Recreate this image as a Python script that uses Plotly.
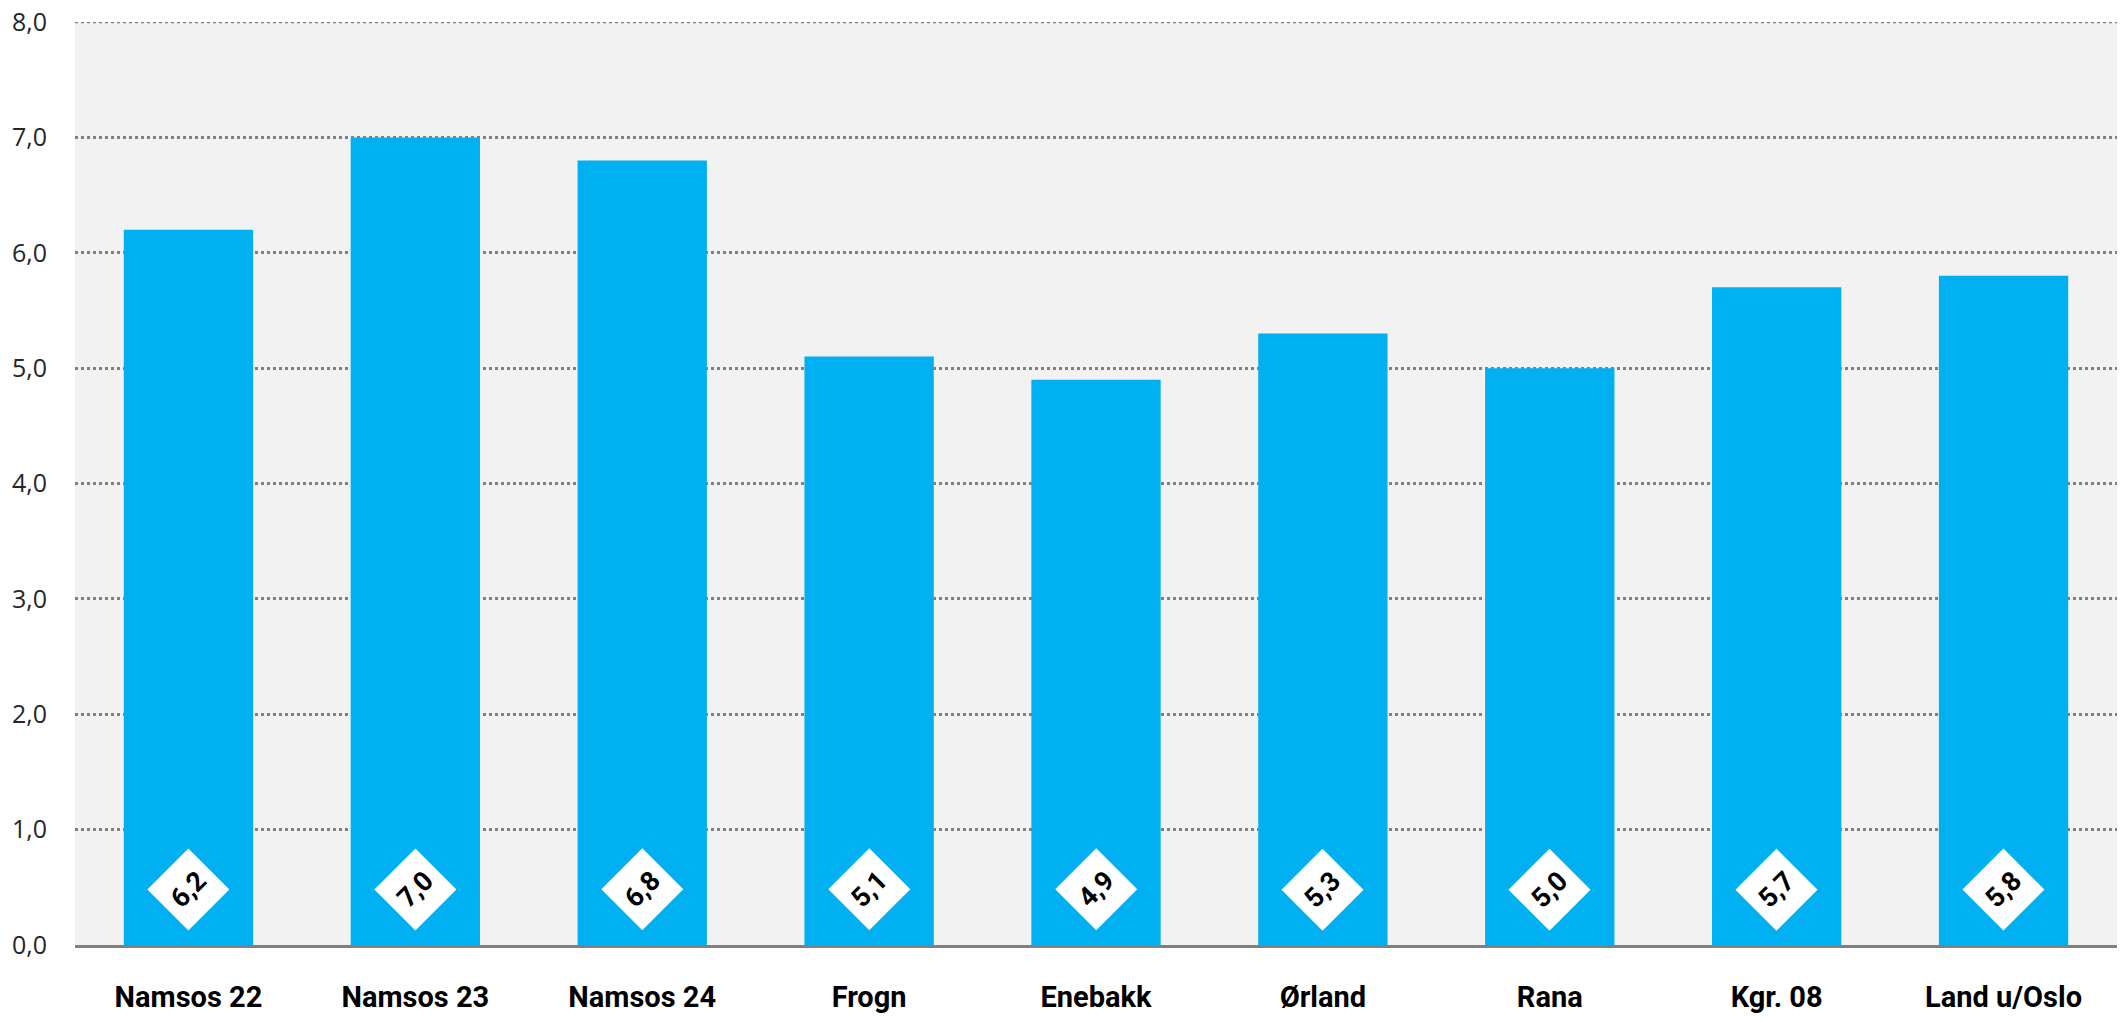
import plotly.graph_objects as go

# --------------------------------------------------
# Daten
# --------------------------------------------------
kategorier = ["Namsos 22", "Namsos 23", "Namsos 24", "Frogn", "Enebakk",
              "Ørland", "Rana", "Kgr. 08", "Land u/Oslo"]
verdier = [6.2, 7.0, 6.8, 5.1, 4.9, 5.3, 5.0, 5.7, 5.8]
y_maks = 8

FONT = "Roboto, Liberation Sans, sans-serif"
GRID = "#808080"

fig = go.Figure()

fig.add_trace(go.Bar(
    x=kategorier,
    y=verdier,
    marker=dict(color="#00B0F0", line=dict(width=0)),
    showlegend=False,
    hoverinfo="x+y",
))

# Verdi-etiketter i hvite "diamanter" nederst i stolpene
for kat, v in zip(kategorier, verdier):
    fig.add_annotation(
        x=kat, y=0.48, xref="x", yref="y",
        text=f"<b>{v:.1f}</b>".replace(".", ","),
        showarrow=False,
        textangle=-45,
        bgcolor="white",
        width=55, height=55,
        font=dict(family=FONT, size=27, color="black"),
        align="center", valign="middle",
    )

# øverste gridlinje (ved 8,0) eksplisitt
fig.add_shape(
    type="line", xref="paper", yref="y",
    x0=0, x1=1, y0=y_maks, y1=y_maks,
    line=dict(color=GRID, width=2.5, dash="dot"),
    layer="below",
)

fig.update_layout(
    width=2120, height=1021,
    margin=dict(l=75, r=3, t=22, b=76),
    paper_bgcolor="white",
    plot_bgcolor="#F2F2F2",
    bargap=0.43,
    separators=", ",
    font=dict(family=FONT),
    xaxis=dict(
        automargin=False,
        showgrid=False,
        showline=True, linecolor="#808080", linewidth=3,
        ticks="outside", ticklen=24, tickcolor="rgba(0,0,0,0)",
        tickfont=dict(family=FONT, size=29, color="black", weight="bold"),
    ),
    yaxis=dict(
        automargin=False,
        range=[0, y_maks], dtick=1, tickformat=".1f",
        showgrid=True, gridcolor=GRID, gridwidth=2.5, griddash="dot",
        zeroline=False, showline=False,
        ticks="outside", ticklen=22, tickcolor="rgba(0,0,0,0)",
        tickfont=dict(family="Open Sans, Liberation Sans, sans-serif", size=25, color="#262626"),
    ),
)

# Seite ohne Rand, damit die Grafik genau das Fenster füllt
fig.write_html(
    "out.html",
    config={"displayModeBar": False},
    post_script="document.body.style.margin='0';",
)
